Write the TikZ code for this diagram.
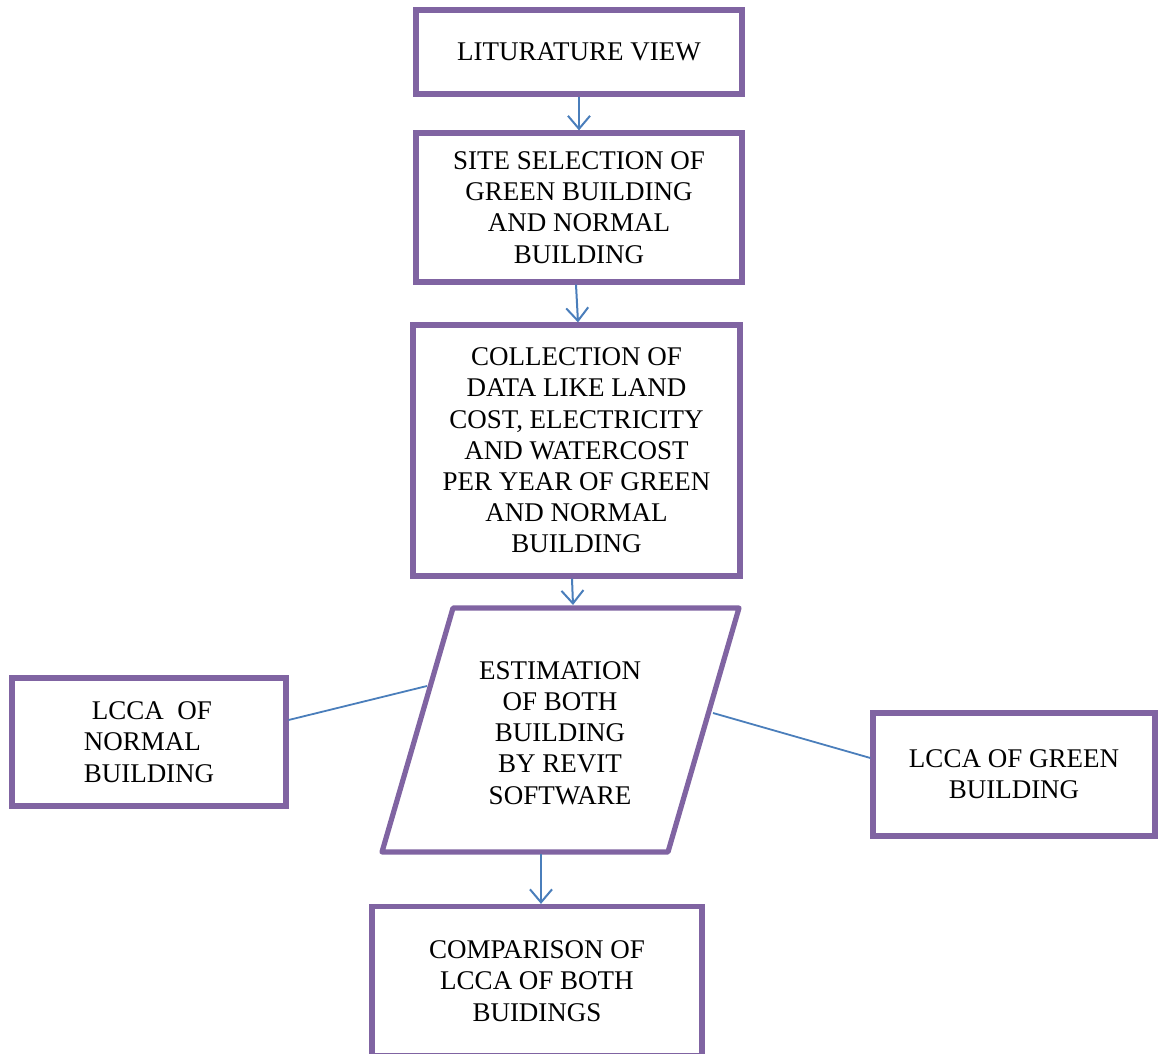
\documentclass[tikz,border=0pt]{standalone}
\usepackage{fontspec}
\setmainfont{Liberation Serif}
\usetikzlibrary{arrows.meta}
\definecolor{boxpurple}{HTML}{8064A2}
\definecolor{linkblue}{HTML}{4A7EBB}

\begin{document}
\begin{tikzpicture}[x=0.5pt,y=-0.5pt,
  boxfont/.style={font=\fontsize{13.5}{15.6}\selectfont},
  stepbox/.style={draw=boxpurple, line width=2.6pt, rectangle, inner sep=0pt,
    align=center, boxfont},
  flow/.style={draw=linkblue, line width=1pt,
    -{Straight Barb[length=6.5pt,width=11pt,line width=1pt]}},
  link/.style={draw=linkblue, line width=0.9pt}]

\useasboundingbox (0,0) rectangle (1158,1054);

% main column of steps
\node[stepbox, minimum width=163pt, minimum height=42pt] (lit) at (579,52)
  {\raisebox{-1pt}{LITURATURE VIEW}};
\node[stepbox, minimum width=163pt, minimum height=74.5pt] (site) at (579,207.5)
  {SITE SELECTION OF\\GREEN BUILDING\\AND NORMAL\\BUILDING};
\node[stepbox, minimum width=163.5pt, minimum height=125.5pt] (data) at (576.5,450.5)
  {COLLECTION OF\\DATA LIKE LAND\\COST, ELECTRICITY\\AND WATERCOST\\PER YEAR OF GREEN\\AND NORMAL\\BUILDING};

% estimation step (parallelogram)
\coordinate (p1) at (453,608);
\coordinate (p2) at (739,608);
\coordinate (p3) at (668,852);
\coordinate (p4) at (382,852);
\draw[boxpurple, line width=2.6pt, line join=round] (p1) -- (p2) -- (p3) -- (p4) -- cycle;
\node[align=center, boxfont] (est) at (560,733)
  {ESTIMATION\\OF BOTH\\BUILDING\\BY REVIT\\SOFTWARE};
\coordinate (esttop) at (573,605);
\coordinate (estbot) at (541,854);
\coordinate (estleft) at (427,686);
\coordinate (estright) at (713,713);

% side results
\node[stepbox, minimum width=137pt, minimum height=64pt, align=left] (lccan) at (149,742)
  {\hspace{4pt}LCCA\ \ OF\\NORMAL\\BUILDING};
\node[stepbox, minimum width=141pt, minimum height=61.5pt] (lccag) at (1014,774.5)
  {LCCA OF GREEN\\BUILDING};

% final comparison, running off the lower edge
\node[stepbox, minimum width=165pt, minimum height=74.5pt] (comp) at (537,981)
  {COMPARISON OF\\LCCA OF BOTH\\BUIDINGS};

% connectors
\draw[flow] (lit.south) -- (site.north);
\draw[flow] ([xshift=-1.5pt]site.south) -- ([xshift=0.75pt]data.north);
\draw[flow] ([xshift=-2.25pt]data.south) -- (esttop);
\draw[flow] (estbot) -- ([xshift=2pt]comp.north);
\draw[link] ([yshift=11pt]lccan.east) -- (estleft);
\draw[link] (estright) -- ([yshift=8.25pt]lccag.west);
\end{tikzpicture}
\end{document}
